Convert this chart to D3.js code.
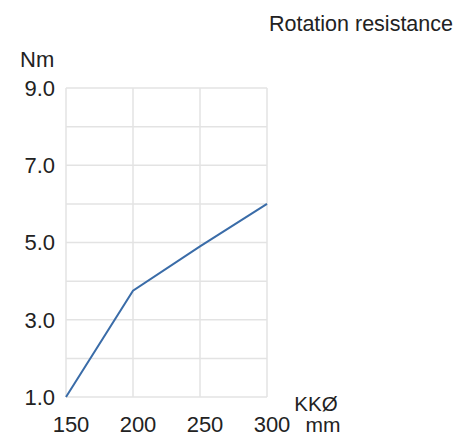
<!DOCTYPE html>
<html><head><meta charset="utf-8">
<script src="https://cdn.jsdelivr.net/npm/d3@7"></script>
<style>body{margin:0;background:#fff}svg{display:block}text{font-family:"Liberation Sans",Arial,sans-serif;fill:#222}</style>
</head><body>
<script>
const diameters = [150, 200, 250, 300];
const torque = [1.0, 3.75, 4.9, 6.0];
const yTickLabels = [1, 3, 5, 7, 9];
const yGrid = [1, 2, 3, 4, 5, 6, 7, 8, 9];
const xTickLabels = [150, 200, 250, 300];

const W = 458, H = 438;
const svg = d3.select("body").append("svg").attr("width", W).attr("height", H);
const x = d3.scaleLinear().domain([150, 300]).range([66, 267]);
const y = d3.scaleLinear().domain([1, 9]).range([397, 88]);

const g = svg.append("g");
g.selectAll("line.h").data(yGrid).join("line")
  .attr("x1", x(150)).attr("x2", x(300))
  .attr("y1", d => y(d)).attr("y2", d => y(d))
  .attr("stroke", "#e3e3e3").attr("stroke-width", 1.5);
g.selectAll("line.v").data(xTickLabels).join("line")
  .attr("x1", d => x(d)).attr("x2", d => x(d))
  .attr("y1", y(1)).attr("y2", y(9))
  .attr("stroke", "#e3e3e3").attr("stroke-width", 1.5);

// y axis labels
svg.selectAll("text.y").data(yTickLabels).join("text")
  .attr("x", 55).attr("y", d => y(d) + 2)
  .attr("text-anchor", "end").attr("dominant-baseline", "middle")
  .attr("font-size", 22).text(d => d.toFixed(1));

// x axis labels
svg.selectAll("text.x").data(xTickLabels).join("text")
  .attr("x", d => x(d) + 5).attr("y", 432)
  .attr("text-anchor", "middle").attr("font-size", 22).text(d => d);

svg.append("text").attr("x", 20).attr("y", 67).attr("font-size", 22).text("Nm");
svg.append("text").attr("x", 316).attr("y", 411).attr("text-anchor", "middle").attr("font-size", 20.5).text("KKØ");
svg.append("text").attr("x", 323).attr("y", 432).attr("text-anchor", "middle").attr("font-size", 21).text("mm");
svg.append("text").attr("x", 453).attr("y", 31).attr("text-anchor", "end").attr("font-size", 21.5).text("Rotation resistance");

const line = d3.line().x((d, i) => x(diameters[i])).y(d => y(d));
svg.append("path").datum(torque).attr("d", line)
  .attr("fill", "none").attr("stroke", "#3a6ca8").attr("stroke-width", 2);
</script>
</body></html>
